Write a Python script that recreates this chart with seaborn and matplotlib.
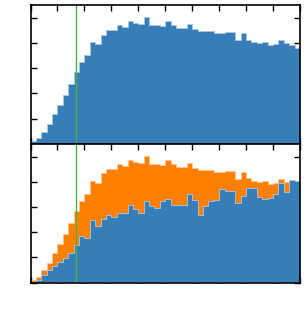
import numpy as np
import matplotlib
matplotlib.use("Agg")
import matplotlib.pyplot as plt
import seaborn as sns

# bin edges (50 unit-wide bins)
bin_edges = list(range(0, 51))
# heights of histogram A (top panel, orange in bottom panel)
hist_a = [0.10, 0.22, 0.49, 0.78, 1.19, 1.54, 1.92, 2.37, 2.83, 3.25,
          3.52, 4.02, 3.96, 4.33, 4.52, 4.52, 4.72, 4.63, 4.85, 4.80,
          4.73, 5.03, 4.72, 4.69, 4.65, 4.87, 4.69, 4.58, 4.59, 4.75,
          4.55, 4.47, 4.47, 4.47, 4.39, 4.38, 4.42, 4.43, 4.11, 4.39,
          4.13, 4.02, 4.01, 4.05, 3.92, 3.96, 4.11, 3.98, 3.90, 3.78]
# heights of histogram B (blue in bottom panel)
hist_b = [0.03, 0.10, 0.30, 0.50, 0.65, 0.83, 0.97, 1.17, 1.47, 1.86,
          1.78, 2.47, 2.24, 2.52, 2.69, 2.60, 2.76, 2.76, 3.06, 2.90,
          2.76, 3.23, 3.04, 2.96, 3.23, 3.33, 3.06, 3.08, 3.09, 3.50,
          3.27, 2.69, 3.05, 3.23, 3.26, 3.70, 3.64, 3.62, 3.17, 3.43,
          3.76, 3.75, 3.39, 3.31, 3.34, 3.52, 3.95, 3.58, 4.07, 4.02]
cut_value = 8.5

sns.set_style("ticks")
blue, orange, green = "#377eb8", "#ff7f00", "#4daf4a"
blue_edge, orange_edge = "#a9c8e4", "#ffc690"

centers = np.array(bin_edges[:-1]) + 0.5

W, H = 307, 314
fig = plt.figure(figsize=(W / 100, H / 100), dpi=100)
left, right = 30.5 / W, 300 / W
ax1 = fig.add_axes([left, 1 - 144 / H, right - left, (144 - 5) / H])
ax2 = fig.add_axes([left, 1 - 282.5 / H, right - left, (282.5 - 144) / H], sharex=ax1)

sns.histplot(x=centers, weights=hist_a, bins=bin_edges, element="step", fill=True,
             color=blue, alpha=1, linewidth=0.6, edgecolor=blue_edge, ax=ax1)
sns.histplot(x=centers, weights=hist_a, bins=bin_edges, element="step", fill=True,
             color=orange, alpha=1, linewidth=0.6, edgecolor=orange_edge, ax=ax2)
sns.histplot(x=centers, weights=hist_b, bins=bin_edges, element="step", fill=True,
             color=blue, alpha=1, linewidth=0.6, edgecolor=blue_edge, ax=ax2)

for ax in (ax1, ax2):
    ax.axvline(cut_value, color=green, lw=1.0, zorder=5)
    ax.set_xlim(0, 50)
    ax.set_ylim(0, 5.5)
    ax.set_xticks(np.arange(0, 51, 5))
    ax.set_yticks(np.arange(0, 6, 1))
    ax.tick_params(direction="in", length=4, width=1, top=True, right=True,
                   labelbottom=False, labelleft=False, colors="black")
    for s in ax.spines.values():
        s.set_visible(True)
        s.set_color("black")
        s.set_linewidth(1.2)
        s.set_zorder(6)
    ax.set_xlabel("")
    ax.set_ylabel("")

fig.savefig("out.png", dpi=100)
